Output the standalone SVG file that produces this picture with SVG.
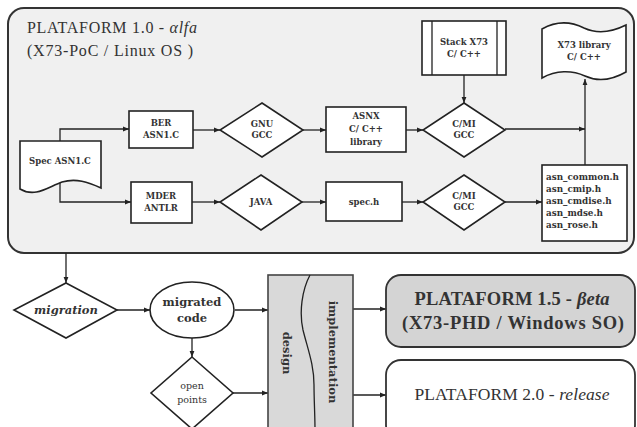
<svg xmlns="http://www.w3.org/2000/svg" width="637" height="427" viewBox="0 0 637 427">
<defs>
<marker id="ah" viewBox="0 0 10 10" refX="10" refY="5" markerWidth="6" markerHeight="6" orient="auto" markerUnits="userSpaceOnUse"><path d="M0,1 L10,5 L0,9 Z" fill="#222"/></marker>
<style>
.s{fill:#fff;stroke:#222;stroke-width:1.6}
.c{fill:none;stroke:#222;stroke-width:1.3;marker-end:url(#ah)}
.l{fill:none;stroke:#222;stroke-width:1.3}
.t{font-family:"Liberation Serif","DejaVu Serif",serif;fill:#333;text-anchor:middle}
.d{font-family:"DejaVu Serif","Liberation Serif",serif;fill:#333;text-anchor:middle}
.b{font-weight:bold;font-size:8.5px}
</style>
</defs>
<rect width="637" height="427" fill="#fff"/>
<g id="panel1">
<rect x="8" y="8" width="626" height="245" rx="16" fill="#f0f0f0" stroke="#333" stroke-width="2"/>
<text class="t" x="27" y="33" font-size="16" style="text-anchor:start" textLength="170">PLATAFORM 1.0 - <tspan font-style="italic">αlfa</tspan></text>
<text class="t" x="27" y="56" font-size="16" style="text-anchor:start" textLength="166">(X73-PoC / Linux OS )</text>
</g>
<g id="connectors">
<path class="c" d="M60,141 V129 H129"/>
<path class="c" d="M60,182 V202 H131"/>
<path class="c" d="M193,130 H220"/>
<path class="c" d="M303,130 H326"/>
<path class="c" d="M406,130 H423"/>
<path class="c" d="M464,75 V103"/>
<path class="c" d="M505,129 H585"/>
<path class="c" d="M585,165 V79"/>
<path class="c" d="M192,202 H220"/>
<path class="c" d="M302,202 H326"/>
<path class="c" d="M402,202 H423"/>
<path class="c" d="M505,202 H542"/>
<path class="c" d="M66,253 V283"/>
<path class="c" d="M117,310 H150"/>
<path class="c" d="M235,310 H268"/>
<path class="c" d="M192,338 V357"/>
<path class="c" d="M233,393 H268"/>
<path class="c" d="M353,309 H386"/>
<path class="c" d="M353,395 H386"/>
</g>
<g id="spec">
<path class="s" d="M20,141 H101 V188 C88,182 76,178 62,182 C48,187 35,198 20,189 Z"/>
<text class="d b" x="60" y="164">Spec ASN1.C</text>
</g>
<g id="ber">
<rect class="s" x="129" y="111" width="64" height="37"/>
<text class="d b" x="161" y="126">BER</text>
<text class="d b" x="161" y="138">ASN1.C</text>
</g>
<g id="gnu">
<polygon class="s" points="262,103 303,130 262,157 220,130"/>
<text class="d b" x="262" y="127">GNU</text>
<text class="d b" x="262" y="138">GCC</text>
</g>
<g id="asnx">
<rect class="s" x="326" y="107" width="80" height="45"/>
<text class="d b" x="366" y="119">ASNX</text>
<text class="d b" x="366" y="132">C/ C++</text>
<text class="d b" x="366" y="145">library</text>
</g>
<g id="stack">
<rect class="s" x="422" y="21" width="84" height="54"/>
<path class="l" d="M432,21 V75 M497,21 V75"/>
<text class="d b" x="464" y="45">Stack X73</text>
<text class="d b" x="464" y="57">C/ C++</text>
</g>
<g id="cm1">
<polygon class="s" points="464,103 505,130 464,157 423,130"/>
<text class="d b" x="464" y="127">C/MI</text>
<text class="d b" x="464" y="138">GCC</text>
</g>
<g id="x73lib">
<path class="s" d="M542,29 C558,20 572,22 584,28 C597,34 612,32 626,25 V72 C612,80 598,82 585,76 C572,70 556,70 542,78 Z"/>
<text class="d b" x="584" y="48">X73 library</text>
<text class="d b" x="584" y="60">C/ C++</text>
</g>
<g id="mder">
<rect class="s" x="131" y="182" width="61" height="41"/>
<text class="d b" x="161" y="199">MDER</text>
<text class="d b" x="161" y="211">ANTLR</text>
</g>
<g id="java">
<polygon class="s" points="261,175 302,202 261,230 220,202"/>
<text class="d b" x="261" y="205">JAVA</text>
</g>
<g id="spech">
<rect class="s" x="326" y="182" width="76" height="39"/>
<text class="d b" x="364" y="205">spec.h</text>
</g>
<g id="cm2">
<polygon class="s" points="464,175 505,202 464,230 423,202"/>
<text class="d b" x="464" y="199">C/MI</text>
<text class="d b" x="464" y="210">GCC</text>
</g>
<g id="asnfiles">
<rect class="s" x="542" y="165" width="85" height="76"/>
<g class="d b" style="text-anchor:start;font-size:8.8px">
<text x="546" y="180">asn_common.h</text>
<text x="546" y="192">asn_cmip.h</text>
<text x="546" y="204">asn_cmdise.h</text>
<text x="546" y="216">asn_mdse.h</text>
<text x="546" y="228">asn_rose.h</text>
</g>
</g>
<g id="migration">
<polygon class="s" points="66,283 117,310 66,338 14,310"/>
<text class="d" x="66" y="314" font-size="11.5" font-weight="bold" font-style="italic">migration</text>
</g>
<g id="migrated">
<ellipse class="s" cx="192" cy="310" rx="42" ry="28"/>
<text class="d" x="192" y="306" font-size="11.5" font-weight="bold">migrated</text>
<text class="d" x="192" y="322" font-size="11.5" font-weight="bold">code</text>
</g>
<g id="openpoints">
<polygon class="s" points="192,357 233,393 192,429 151,393"/>
<text class="d" x="192" y="389" font-size="9.5" fill="#555">open</text>
<text class="d" x="192" y="403" font-size="9.5" fill="#555">points</text>
</g>
<g id="designimpl">
<rect x="268" y="275" width="85" height="160" fill="#d9d9d9" stroke="#444" stroke-width="1.6"/>
<path class="l" d="M310,275 C302,290 299,312 303,330 C308,350 314,365 314,385 C314,400 315,415 315,430"/>
<text class="d" font-size="11.5" font-weight="bold" transform="translate(287,353) rotate(90)" dy="4">design</text>
<text class="d" font-size="11.5" font-weight="bold" transform="translate(333,352) rotate(90)" dy="4">implementation</text>
</g>
<g id="plat15">
<rect x="386" y="275" width="249" height="72" rx="15" fill="#d4d4d4" stroke="#333" stroke-width="1.8"/>
<text class="t" x="512" y="305" font-size="18.5" font-weight="bold" fill="#222" textLength="195">PLATAFORM 1.5 - <tspan font-style="italic">βeta</tspan></text>
<text class="t" x="513" y="329" font-size="18.5" font-weight="bold" fill="#222" textLength="222">(X73-PHD / Windows SO)</text>
</g>
<g id="plat20">
<rect x="386" y="360" width="249" height="80" rx="15" fill="#fff" stroke="#333" stroke-width="1.8"/>
<text class="t" x="512" y="400" font-size="17.5" textLength="195">PLATAFORM 2.0 - <tspan font-style="italic">release</tspan></text>
</g>
</svg>
